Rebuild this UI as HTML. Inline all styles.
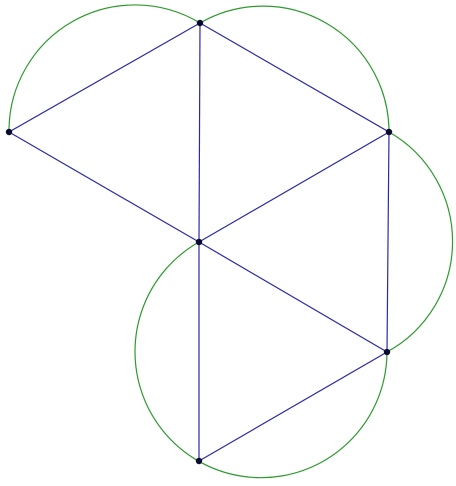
<!DOCTYPE html>
<html><head><meta charset="utf-8"><style>
html,body{margin:0;padding:0;background:#fff;}
svg{display:block;}
</style></head><body>
<svg id="fig" width="456" height="486" viewBox="0 0 456 486" xmlns="http://www.w3.org/2000/svg"></svg>
<script>
const pointNames = ["A","B","C","D","E","F"];
const pointX = [9,200,389,199,387,199];
const pointY = [132,23,132,242,352,461];
const segments = [["A","B"],["B","C"],["A","D"],["B","D"],["C","D"],["C","E"],["D","E"],["D","F"],["F","E"]];
const arcs = [["A","B",0,1],["B","C",0,1],["C","E",0,1],["D","E",1,0]];
const arcRadius = 126;

const svg = document.getElementById('fig');
const ns = "http://www.w3.org/2000/svg";
function P(n){const i=pointNames.indexOf(n);return [pointX[i],pointY[i]];}

arcs.forEach(a=>{
  const p=P(a[0]), q=P(a[1]);
  const el=document.createElementNS(ns,'path');
  el.setAttribute('d',`M${p[0]},${p[1]} A${arcRadius},${arcRadius} 0 ${a[2]} ${a[3]} ${q[0]},${q[1]}`);
  el.setAttribute('fill','none');el.setAttribute('stroke','#2e9a2e');el.setAttribute('stroke-width','1.2');
  
  
  svg.appendChild(el);
});
segments.forEach(s=>{
  const p=P(s[0]), q=P(s[1]);
  const el=document.createElementNS(ns,'line');
  el.setAttribute('x1',p[0]);el.setAttribute('y1',p[1]);el.setAttribute('x2',q[0]);el.setAttribute('y2',q[1]);
  el.setAttribute('stroke','#2a2aa8');el.setAttribute('stroke-width','1.2');
  
  
  svg.appendChild(el);
});
pointNames.forEach((n,i)=>{
  const el=document.createElementNS(ns,'circle');
  el.setAttribute('cx',pointX[i]);el.setAttribute('cy',pointY[i]);el.setAttribute('r','3.2');
  el.setAttribute('fill','#0a0a30');
  
  
  svg.appendChild(el);
});
</script>
</body></html>
